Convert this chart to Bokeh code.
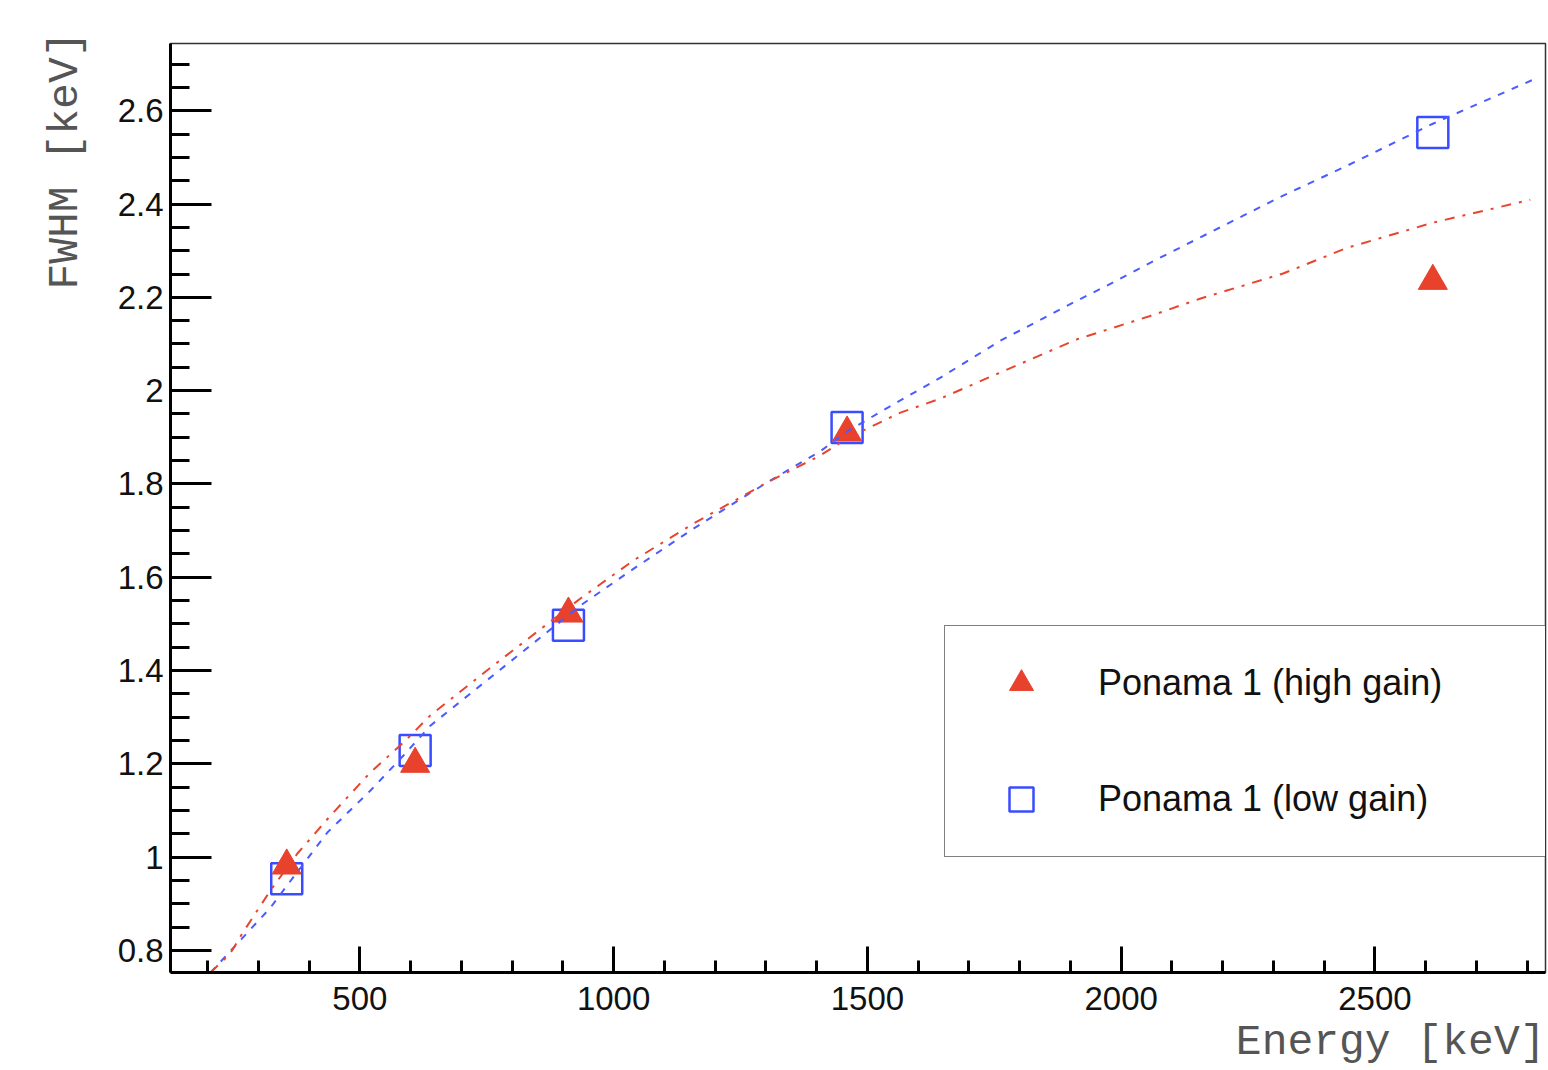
from bokeh.plotting import figure
from bokeh.models import (Range1d, SingleIntervalTicker, CustomJSTickFormatter,
                          Legend, LegendItem, Title)
from bokeh.embed import file_html
from bokeh.resources import INLINE

# ---- data ----
energy = [356, 609, 911, 1460, 2614]
fwhm_high = [0.982, 1.200, 1.522, 1.910, 2.235]
fwhm_low = [0.954, 1.229, 1.497, 1.921, 2.553]

fit_low_e = [206, 268, 324, 357, 436, 521, 586, 639, 757, 934, 1039, 1157, 1302,
             1407, 1462, 1565, 1644, 1762, 1913, 1972, 2057, 2155, 2319, 2445,
             2614, 2821]
fit_low_y = [0.753, 0.826, 0.892, 0.940, 1.053, 1.143, 1.218, 1.282, 1.385, 1.539,
             1.618, 1.704, 1.803, 1.870, 1.914, 1.979, 2.028, 2.107, 2.193, 2.225,
             2.274, 2.328, 2.418, 2.482, 2.572, 2.671]

fit_high_e = [206, 245, 268, 324, 377, 442, 521, 586, 639, 757, 934, 1039, 1157,
              1302, 1407, 1462, 1565, 1644, 1762, 1913, 2057, 2155, 2319, 2445,
              2614, 2806]
fit_high_y = [0.753, 0.794, 0.836, 0.929, 1.008, 1.089, 1.182, 1.246, 1.304, 1.406,
              1.554, 1.636, 1.715, 1.803, 1.861, 1.899, 1.953, 1.983, 2.039, 2.110,
              2.160, 2.197, 2.251, 2.306, 2.360, 2.409]

label_high = "Ponama 1 (high gain)"
label_low = "Ponama 1 (low gain)"
x_title = "Energy [keV]"
y_title = "FWHM [keV]"

RED = "#e8412c"
BLUE = "#3a4cff"

p = figure(width=1548, height=1070, output_backend="svg", toolbar_location=None,
           x_range=Range1d(127, 2836), y_range=Range1d(0.753, 2.744),
           min_border_left=170, min_border_right=3, min_border_top=43,
           min_border_bottom=98)

p.background_fill_color = "white"
p.border_fill_color = "white"
p.outline_line_color = "#333333"
p.outline_line_width = 1.5
p.xgrid.visible = False
p.ygrid.visible = False

# axes
xa = p.xaxis[0]
xa.ticker = SingleIntervalTicker(interval=500, num_minor_ticks=5)
ya = p.yaxis[0]
ya.ticker = SingleIntervalTicker(interval=0.2, num_minor_ticks=4)
ya.formatter = CustomJSTickFormatter(code="return (Math.round(tick*100)/100).toString();")

for ax in (xa, ya):
    ax.axis_line_width = 3
    ax.axis_line_color = "black"
    ax.major_tick_line_width = 3
    ax.minor_tick_line_width = 3
    ax.major_tick_out = 0
    ax.minor_tick_out = 0
    ax.major_label_text_font = "Liberation Sans"
    ax.major_label_text_font_size = "33px"
    ax.major_label_text_color = "#111111"
xa.major_tick_in = 26
xa.minor_tick_in = 12
ya.major_tick_in = 41
ya.minor_tick_in = 19
xa.major_label_standoff = 14
ya.major_label_standoff = 7

# data markers
sq = p.scatter(energy, fwhm_low, marker="square", size=31, fill_color=None,
               line_color=BLUE, line_width=2.5)
tri = p.scatter(energy, fwhm_high, marker="triangle", size=29, fill_color=RED,
                line_color=RED, line_width=1)

# fit curves
p.line(fit_low_e, fit_low_y, line_color="#4a5cff", line_width=2, line_dash="7 8")
p.line(fit_high_e, fit_high_y, line_color="#e8452f", line_width=2, line_dash="10 8 3 8")

# axis titles
p.add_layout(Title(text=x_title, align="right", text_font="Liberation Mono",
                   text_font_size="43px", text_font_style="normal",
                   text_color="#555555", standoff=7, offset=0), "below")
p.add_layout(Title(text=y_title, align="right", text_font="Liberation Mono",
                   text_font_size="43px", text_font_style="normal",
                   text_color="#555555", standoff=50, offset=-12), "left")

legend = Legend(items=[LegendItem(label=label_high, renderers=[tri]),
                       LegendItem(label=label_low, renderers=[sq])],
                location=(774, 115), margin=0,
                glyph_width=98, glyph_height=60, label_standoff=28,
                padding=27, spacing=56, label_width=423, label_height=60,
                label_text_font="Liberation Sans", label_text_font_size="36px",
                label_text_color="#111111",
                border_line_color="black", border_line_width=1.5,
                background_fill_color="white", background_fill_alpha=1)
p.add_layout(legend)

open("out.html", "w").write(file_html(p, INLINE))
